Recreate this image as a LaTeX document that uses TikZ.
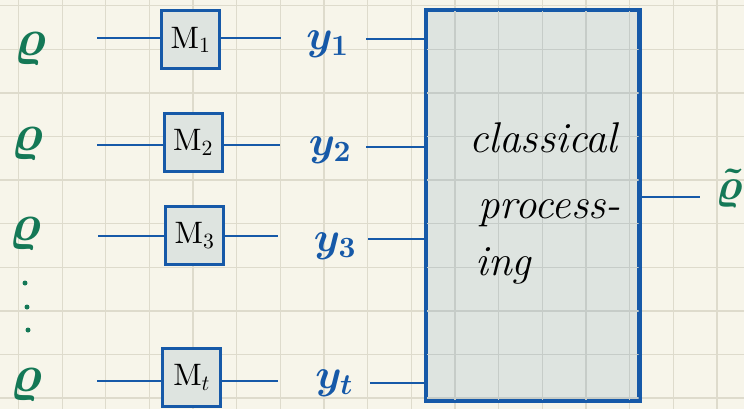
\documentclass[tikz,border=0pt]{standalone}
\usepackage{amsmath}
% scalable Computer Modern math fonts, so large symbols are drawn at full size
\DeclareFontShape{OML}{cmm}{m}{it}{<->cmmi10}{}
\DeclareFontShape{OML}{cmm}{b}{it}{<->cmmib10}{}
\DeclareFontShape{OT1}{cmr}{m}{n}{<->cmr10}{}
\DeclareFontShape{OT1}{cmr}{bx}{n}{<->cmbx10}{}
\DeclareFontShape{OMS}{cmsy}{m}{n}{<->cmsy10}{}
\DeclareFontShape{OMS}{cmsy}{b}{n}{<->cmbsy10}{}
\definecolor{paper}{HTML}{F7F5EA}
\definecolor{gridc}{HTML}{DEDBCC}
\definecolor{gridin}{HTML}{C6CCC8}
\definecolor{boxfill}{HTML}{DEE4E0}
\definecolor{penblue}{HTML}{1659A8}
\definecolor{pengreen}{HTML}{147856}

% squared paper: vertical and horizontal rulings
\newcommand{\papergrid}[1]{%
  \foreach \i in {0,...,16} \draw[#1] ({18.5+43.65*\i},0) -- ({18.5+43.65*\i},409);
  \foreach \j in {0,...,9} \draw[#1] (0,{5.7+43.6*\j}) -- (744,{5.7+43.6*\j});
}

\begin{document}
\begin{tikzpicture}[x=1pt,y=-1pt,
  wire/.style={penblue, line width=2pt},
  meas/.style={draw=penblue, fill=boxfill, line width=3pt,
    minimum width=58pt, minimum height=58pt, inner sep=0pt,
    font=\fontsize{31}{31}\selectfont},
  procbox/.style={draw=penblue, fill=boxfill, line width=3pt,
    minimum width=212pt, minimum height=389.5pt, inner sep=0pt},
  statelbl/.style={text=pengreen, inner sep=0pt,
    font=\fontsize{52}{52}\selectfont\boldmath},
  outlbl/.style={text=penblue, inner sep=0pt,
    font=\fontsize{42}{42}\selectfont\boldmath},
  proctext/.style={anchor=base west, inner sep=0pt,
    font=\fontsize{43}{43}\selectfont\itshape},
  dot/.style={circle, fill=pengreen, inner sep=0pt, minimum size=5pt},
  gridline/.style={gridc, line width=1.3pt},
  gridinner/.style={gridin, line width=1.3pt}]

\useasboundingbox (0,0) rectangle (744,409);
\clip (0,0) rectangle (744,409);
\fill[paper] (0,0) rectangle (744,409);
\papergrid{gridline}

% classical processing block, with the paper rulings showing through
\node[procbox] (cp) at (532.5,205.3) {};
\begin{scope}
  \clip (cp.north west) ++(1.5,1.5) rectangle ([shift={(-1.5,-1.5)}]cp.south east);
  \papergrid{gridinner}
\end{scope}
\draw[penblue, line width=3pt] (cp.north west) rectangle (cp.south east);

\node[proctext] (t1) at (469,153) {classical};
\node[proctext] (t2) at (478,218) {process-};
\node[proctext] (t3) at (475,275) {ing};

% measurement boxes
\node[meas] (m1) at (190.5,40)  {$\mathrm{M}_1$};
\node[meas] (m2) at (193,142.2) {$\mathrm{M}_2$};
\node[meas] (m3) at (194.5,235.4) {$\mathrm{M}_3$};
\node[meas] (mt) at (191.7,377.5) {$\mathrm{M}_t$};

% input states
\node[statelbl] (r1) at (30,49) {$\varrho$};
\node[statelbl] (r2) at (27,144) {$\varrho$};
\node[statelbl] (r3) at (25,234) {$\varrho$};
\node[statelbl] (rt) at (26,385) {$\varrho$};
\node[dot] (d1) at (25,283) {};
\node[dot] (d2) at (27,307) {};
\node[dot] (d3) at (28,330) {};

% outcomes
\node[outlbl] (y1) at (327.5,44) {$y_1$};
\node[outlbl] (y2) at (330,150) {$y_2$};
\node[outlbl] (y3) at (335,246) {$y_3$};
\node[outlbl] (yt) at (334,383) {$y_t$};

% wires into the measurements
\coordinate (s1) at (97,38.5);
\coordinate (s2) at (97,145);
\coordinate (s3) at (98,235.5);
\coordinate (st) at (97,381);
\draw[wire] (s1) -- (s1 -| m1.west);
\draw[wire] (s2) -- (s2 -| m2.west);
\draw[wire] (s3) -- (s3 -| m3.west);
\draw[wire] (st) -- (st -| mt.west);

% wires out of the measurements
\coordinate (e1) at (281,38.5);
\coordinate (e2) at (280,145);
\coordinate (e3) at (278,235.5);
\coordinate (et) at (278,381);
\draw[wire] (m1.east |- e1) -- (e1);
\draw[wire] (m2.east |- e2) -- (e2);
\draw[wire] (m3.east |- e3) -- (e3);
\draw[wire] (mt.east |- et) -- (et);

% outcomes into the classical block
\coordinate (f1) at (366,39.3);
\coordinate (f2) at (366,146.7);
\coordinate (f3) at (368,238.7);
\coordinate (ft) at (370,382.7);
\draw[wire] (f1) -- (f1 -| cp.west);
\draw[wire] (f2) -- (f2 -| cp.west);
\draw[wire] (f3) -- (f3 -| cp.west);
\draw[wire] (ft) -- (ft -| cp.west);

% output estimate
\coordinate (o) at (700,197.3);
\draw[wire] (cp.east |- o) -- (o);
\node[statelbl, font=\fontsize{44}{44}\selectfont\boldmath] (est) at (729,188) {$\tilde{\varrho}$};
\end{tikzpicture}
\end{document}
